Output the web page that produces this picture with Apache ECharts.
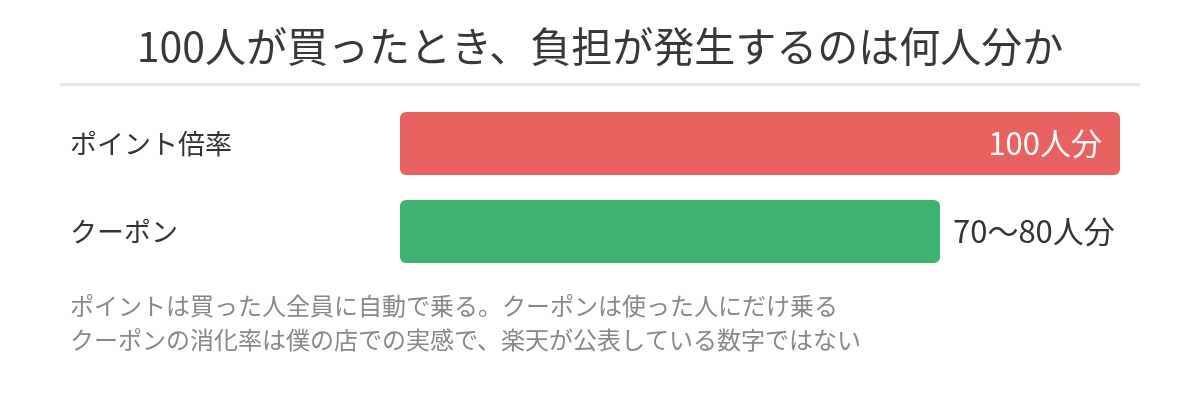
<!DOCTYPE html>
<html lang="ja">

<head>
    <meta charset="UTF-8">
    <title>100人が買ったとき、負担が発生するのは何人分か</title>
    <script src="https://cdn.jsdelivr.net/npm/echarts@6/dist/echarts.min.js"></script>
    <style>
        html, body { margin: 0; padding: 0; background: #fff; }
        #chart { width: 1200px; height: 416px; }
    </style>
</head>

<body>
    <div id="chart"></div>

    <script>
        // データ
        const titleText = '100人が買ったとき、負担が発生するのは何人分か';
        const categories = ['ポイント倍率', 'クーポン'];
        const values = [100, 75];
        const valueLabels = ['100人分', '70〜80人分'];
        const notes = [
            'ポイントは買った人全員に自動で乗る。クーポンは使った人にだけ乗る',
            'クーポンの消化率は僕の店での実感で、楽天が公表している数字ではない'
        ];

        const FONT = '"Noto Sans CJK JP", "Noto Sans", sans-serif';
        const colors = ['#e86262', '#3eb370'];

        let myChart = echarts.init(document.getElementById('chart'));

        let barData = values.map(function (v, i) {
            let inside = i === 0;
            return {
                value: v,
                itemStyle: { color: colors[i], borderRadius: 6 },
                label: {
                    show: true,
                    position: inside ? 'insideRight' : 'right',
                    distance: inside ? 18 : 13,
                    color: inside ? '#fff' : '#333',
                    fontSize: 31,
                    fontFamily: FONT,
                    formatter: valueLabels[i]
                }
            };
        });

        let option = {
            animation: false,
            backgroundColor: '#fff',
            title: {
                text: titleText,
                left: 'center',
                top: 21,
                textStyle: {
                    color: '#383838',
                    fontSize: 41,
                    fontWeight: 'normal',
                    fontFamily: FONT
                }
            },
            grid: {
                left: 400,
                right: 80,
                top: 99.5,
                bottom: 140.5
            },
            xAxis: {
                type: 'value',
                min: 0,
                max: 100,
                show: false
            },
            yAxis: {
                type: 'category',
                inverse: true,
                data: categories,
                axisLine: { show: false },
                axisTick: { show: false },
                splitLine: { show: false },
                axisLabel: {
                    align: 'left',
                    margin: 330,
                    color: '#333',
                    fontSize: 27,
                    fontFamily: FONT
                }
            },
            series: [{
                type: 'bar',
                barWidth: 63,
                data: barData
            }],
            graphic: [
                {
                    type: 'line',
                    shape: { x1: 60, y1: 84.5, x2: 1140, y2: 84.5 },
                    style: { stroke: '#e6e6e6', lineWidth: 3 }
                }
            ].concat(notes.map(function (t, i) {
                return {
                    type: 'text',
                    x: 70,
                    y: 306 + i * 34,
                    style: {
                        text: t,
                        fill: '#888',
                        fontSize: 24,
                        fontFamily: FONT,
                        textVerticalAlign: 'middle'
                    }
                };
            }))
        };
        myChart.setOption(option);
    </script>

</body>

</html>
